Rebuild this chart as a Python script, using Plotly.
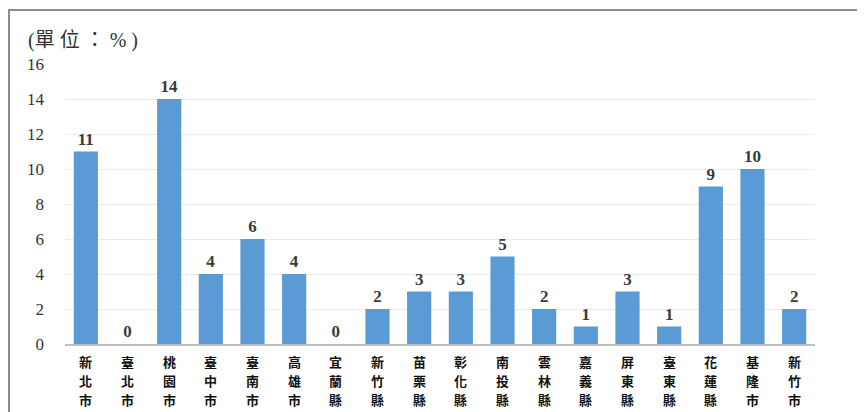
import plotly.graph_objects as go

categories = ["新北市", "臺北市", "桃園市", "臺中市", "臺南市", "高雄市", "宜蘭縣", "新竹縣", "苗栗縣",
              "彰化縣", "南投縣", "雲林縣", "嘉義縣", "屏東縣", "臺東縣", "花蓮縣", "基隆市", "新竹市"]
values = [11, 0, 14, 4, 6, 4, 0, 2, 3, 3, 5, 2, 1, 3, 1, 9, 10, 2]
y_ticks = [0, 2, 4, 6, 8, 10, 12, 14, 16]
unit_label = "(單 位 ： % )"

# the page body has an 8px default margin: work in page pixels, convert to figure pixels
OFF = 8
W, H = 865 - OFF, 412 - OFF
L, R, T, B = 65 - OFF, 50, 64 - OFF, 68
pw, ph = W - L - R, H - T - B

def px(x):
    return (x - OFF - L) / pw

def py(y):
    return 1 + (T - (y - OFF)) / ph

fig = go.Figure()
fig.add_trace(go.Bar(
    x=categories,
    y=values,
    marker=dict(color="#5b9bd5", line=dict(width=0)),
    text=[str(v) for v in values],
    textposition="outside",
    textfont=dict(family="Liberation Serif, DejaVu Serif", size=17, color="#3a3a3a", weight="bold"),
    cliponaxis=False,
))

# vertical category labels: one character per row, under each category
row_centers = [361, 380, 399]
annotations = []
for cat in categories:
    for j, ch in enumerate(cat):
        annotations.append(dict(
            text=ch, xref="x", yref="paper",
            x=cat, y=py(row_centers[j]),
            xanchor="center", yanchor="middle",
            showarrow=False,
            font=dict(family="Noto Sans CJK TC", size=13, color="#111111", weight="bold"),
        ))

annotations.append(dict(
    text=unit_label,
    xref="paper", yref="paper",
    x=px(26), y=py(40),
    xanchor="left", yanchor="middle",
    showarrow=False,
    font=dict(family="Liberation Serif, Noto Sans CJK TC", size=20, color="#333333"),
))

fig.update_layout(
    width=W, height=H,
    margin=dict(l=L, r=R, t=T, b=B),
    paper_bgcolor="white",
    plot_bgcolor="white",
    showlegend=False,
    bargap=0.42,
    xaxis=dict(
        showticklabels=False,
        showline=True,
        linecolor="#bfbfbf",
        linewidth=1.5,
        showgrid=False,
        ticks="",
        automargin=False,
        fixedrange=True,
    ),
    yaxis=dict(
        range=[0, 16],
        tickvals=y_ticks,
        tickfont=dict(family="Liberation Serif, DejaVu Serif", size=17, color="#333333"),
        showgrid=True,
        gridcolor="#ebebeb",
        gridwidth=1,
        zeroline=False,
        showline=False,
        ticks="",
        ticklabelstandoff=20,
        automargin=False,
        fixedrange=True,
    ),
    annotations=annotations,
    shapes=[dict(
        type="path",
        xref="paper", yref="paper",
        path=f"M {px(9)} {py(H + OFF + 5)} L {px(9)} {py(10)} L {px(W + OFF + 5)} {py(10)}",
        line=dict(color="#8c8c8c", width=2),
    )],
)

fig.write_html("out.html")
